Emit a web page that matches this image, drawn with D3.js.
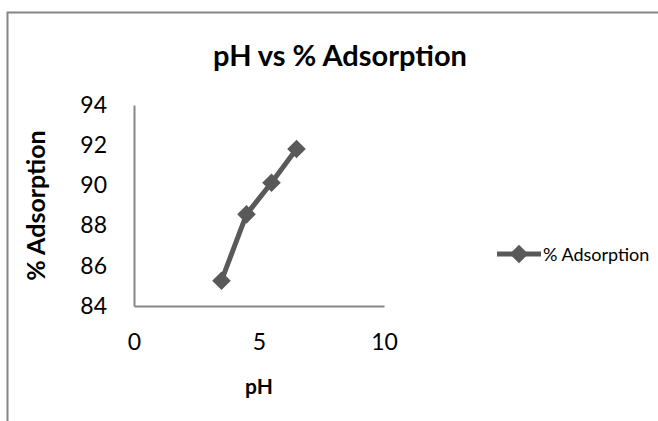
<!DOCTYPE html>
<html>
<head>
<meta charset="utf-8">
<script src="https://cdn.jsdelivr.net/npm/d3@7"></script>
<style>
  body { margin: 0; background: #fff; }
  text { font-family: Lato, "Liberation Sans", sans-serif; fill: #000; }
</style>
</head>
<body>
<div id="chart"></div>
<script>
// pH vs % adsorption
var phValues = [3.5, 4.5, 5.5, 6.5];
var adsorption = [85.26, 88.56, 90.13, 91.81];
var xTicks = [0, 5, 10];
var yTicks = [84, 86, 88, 90, 92, 94];
var seriesName = "% Adsorption";

var W = 658, H = 421;
var margin = {top: 105, right: 274, bottom: 115, left: 134},
    width = W - margin.left - margin.right,
    height = H - margin.top - margin.bottom;

var svg = d3.select("#chart")
  .append("svg")
  .attr("width", W)
  .attr("height", H);

// outer chart frame (runs off the right and bottom)
svg.append("rect")
  .attr("x", 7.5)
  .attr("y", 12.5)
  .attr("width", W + 20)
  .attr("height", H + 20)
  .attr("fill", "none")
  .attr("stroke", "#868686")
  .attr("stroke-width", 2);

var g = svg.append("g")
  .attr("transform", "translate(" + margin.left + "," + margin.top + ")");

var x = d3.scaleLinear().domain([0, 10]).range([0, width]);
var y = d3.scaleLinear().domain([84, 94]).range([height, 0]);

var xAxis = g.append("g")
  .attr("transform", "translate(0," + height + ")")
  .call(d3.axisBottom(x).tickValues(xTicks).tickSize(0).tickPadding(28));
var yAxis = g.append("g")
  .call(d3.axisLeft(y).tickValues(yTicks).tickSize(0).tickPadding(27));

[xAxis, yAxis].forEach(function(a) {
  a.select(".domain").attr("stroke", "#868686").attr("stroke-width", 2);
  a.selectAll("text").style("font-family", "Lato, sans-serif").style("font-size", "23px").attr("fill", "#000");
});
xAxis.selectAll("text").attr("dy", "0.71em");

var pts = phValues.map(function(p, i) { return [p, adsorption[i]]; });

var line = d3.line()
  .x(function(d) { return x(d[0]); })
  .y(function(d) { return y(d[1]); });

g.append("path")
  .datum(pts)
  .attr("d", line)
  .attr("fill", "none")
  .attr("stroke", "#595959")
  .attr("stroke-width", 5)
  .attr("stroke-linejoin", "round");

var diamond = d3.symbol().type(d3.symbolDiamond2).size(220);

g.selectAll(".pt")
  .data(pts)
  .join("path")
  .attr("class", "pt")
  .attr("d", diamond)
  .attr("transform", function(d) { return "translate(" + x(d[0]) + "," + y(d[1]) + ")"; })
  .attr("fill", "#595959");

// titles
svg.append("text")
  .text("pH vs % Adsorption")
  .attr("x", 340)
  .attr("y", 66)
  .attr("text-anchor", "middle")
  .style("font-size", "29px")
  .style("font-weight", "bold");

svg.append("text")
  .text("pH")
  .attr("x", margin.left + x(5))
  .attr("y", 394)
  .attr("text-anchor", "middle")
  .style("font-size", "21px")
  .style("font-weight", "bold");

svg.append("text")
  .text("% Adsorption")
  .attr("transform", "translate(45," + (margin.top + height / 2) + ") rotate(-90)")
  .attr("text-anchor", "middle")
  .style("font-size", "25px")
  .style("font-weight", "bold");

// legend
var leg = svg.append("g").attr("transform", "translate(497,254)");
leg.append("line")
  .attr("x1", 0).attr("x2", 44)
  .attr("stroke", "#595959").attr("stroke-width", 5);
leg.append("path")
  .attr("d", diamond)
  .attr("transform", "translate(22,0)")
  .attr("fill", "#595959");
leg.append("text")
  .text(seriesName)
  .attr("x", 46)
  .attr("y", 7)
  .style("font-size", "18px");
</script>
</body>
</html>
